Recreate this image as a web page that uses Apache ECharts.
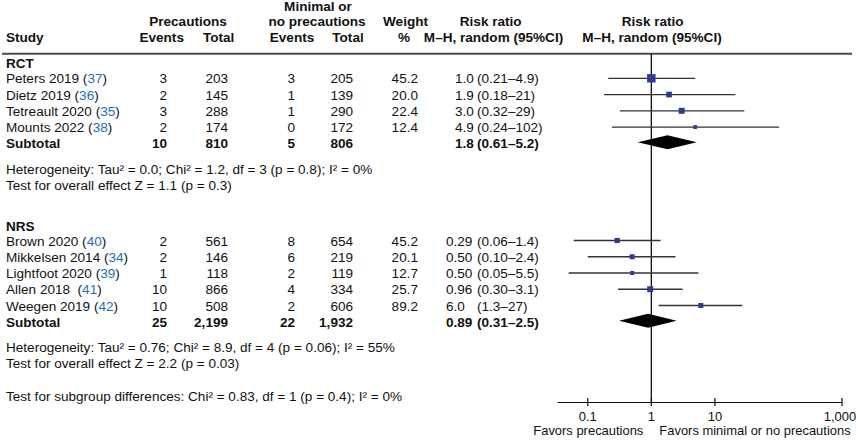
<!DOCTYPE html>
<html><head><meta charset="utf-8">
<script src="https://cdn.jsdelivr.net/npm/echarts@6/dist/echarts.min.js"></script>
<style>html,body{margin:0;padding:0;background:#fff}#c{width:858px;height:442px}</style>
</head><body><div id="c"></div>
<script>
// ---------------- DATA ----------------
const rctStudy = ['Peters 2019', 'Dietz 2019', 'Tetreault 2020', 'Mounts 2022'];
const rctRef = ['37', '36', '35', '38'];
const rctPrecEvents = ['3', '2', '3', '2'];
const rctPrecTotal = ['203', '145', '288', '174'];
const rctCtrlEvents = ['3', '1', '1', '0'];
const rctCtrlTotal = ['205', '139', '290', '172'];
const rctWeight = ['45.2', '20.0', '22.4', '12.4'];
const rctRR = ['1.0', '1.9', '3.0', '4.9'];
const rctLow = ['0.21', '0.18', '0.32', '0.24'];
const rctHigh = ['4.9', '21', '29', '102'];
const rctSubCounts = ['10', '810', '5', '806'];
const rctSubRR = ['1.8', '0.61', '5.2'];
const rctHet = 'Heterogeneity: Tau\u00b2 = 0.0; Chi\u00b2 = 1.2, df = 3 (p = 0.8); I\u00b2 = 0%';
const rctOverall = 'Test for overall effect Z = 1.1 (p = 0.3)';

const nrsStudy = ['Brown 2020', 'Mikkelsen 2014', 'Lightfoot 2020', 'Allen 2018 ', 'Weegen 2019'];
const nrsRef = ['40', '34', '39', '41', '42'];
const nrsPrecEvents = ['2', '2', '1', '10', '10'];
const nrsPrecTotal = ['561', '146', '118', '866', '508'];
const nrsCtrlEvents = ['8', '6', '2', '4', '2'];
const nrsCtrlTotal = ['654', '219', '119', '334', '606'];
const nrsWeight = ['45.2', '20.1', '12.7', '25.7', '89.2'];
const nrsRR = ['0.29', '0.50', '0.50', '0.96', '6.0'];
const nrsLow = ['0.06', '0.10', '0.05', '0.30', '1.3'];
const nrsHigh = ['1.4', '2.4', '5.5', '3.1', '27'];
const nrsSubCounts = ['25', '2,199', '22', '1,932'];
const nrsSubRR = ['0.89', '0.31', '2.5'];
const nrsHet = 'Heterogeneity: Tau\u00b2 = 0.76; Chi\u00b2 = 8.9, df = 4 (p = 0.06); I\u00b2 = 55%';
const nrsOverall = 'Test for overall effect Z = 2.2 (p = 0.03)';

const subgroupTest = 'Test for subgroup differences: Chi\u00b2 = 0.83, df = 1 (p = 0.4); I\u00b2 = 0%';
const tickValues = [0.1, 1, 10, 1000];
const tickLabels = ['0.1', '1', '10', '1,000'];
const favorsLeft = 'Favors precautions';
const favorsRight = 'Favors minimal or no precautions';

// ---------------- STYLE / LAYOUT ----------------
const FONT = '"Liberation Sans", Arial, Helvetica, sans-serif';
const FS = 12, SX = 1.13, SX_AXIS = 1.08;
const TXT = '#111', BLUE = '#1b6fbf', SQ = '#2d3a98', LINE = '#333';
const COL = { name: 6, pe: 167, pt: 228, ce: 295, ct: 353, w: 418, ci: 477 };
const ROWH = 16.25, TOFF = 0.8;
const rctSquarePx = [8.4, 5.7, 6, 3.8];
const nrsSquarePx = [5.2, 5, 4, 6, 5];
const DIAMOND_H = 14;
const AXIS_Y = 402;

// ---------------- BUILD ----------------
const textRows = [];   // {y, items:[{x, s, align, bold, rich}]}
const forest = [];     // [rr, lo, hi, y, kind, size]

function addHeaderRow(y, items) { textRows.push({ y, items }); }
addHeaderRow(6.5, [{ x: 318, s: 'Minimal or', align: 'center', bold: true }]);
addHeaderRow(22, [
  { x: 188, s: 'Precautions', align: 'center', bold: true },
  { x: 317, s: 'no precautions', align: 'center', bold: true },
  { x: 405.5, s: 'Weight', align: 'center', bold: true },
  { x: 490.7, s: 'Risk ratio', align: 'center', bold: true },
  { x: 652.7, s: 'Risk ratio', align: 'center', bold: true }
]);
addHeaderRow(38, [
  { x: 6, s: 'Study', align: 'left', bold: true },
  { x: 161.7, s: 'Events', align: 'center', bold: true },
  { x: 218.7, s: 'Total', align: 'center', bold: true },
  { x: 292, s: 'Events', align: 'center', bold: true },
  { x: 348, s: 'Total', align: 'center', bold: true },
  { x: 404, s: '%', align: 'center', bold: true },
  { x: 493.5, s: 'M\u2013H, random (95%CI)', align: 'center', bold: true },
  { x: 652, s: 'M\u2013H, random (95%CI)', align: 'center', bold: true }
]);

function addSection(label, start, rrX, study, ref, pe, pt, ce, ct, w, rr, lo, hi, subCounts, subRR, het, overall, sq) {
  textRows.push({ y: start - 15 + TOFF, items: [{ x: COL.name, s: label, align: 'left', bold: true }] });
  study.forEach((s, i) => {
    const y = start + i * ROWH;
    textRows.push({ y: y + TOFF, items: [
      { x: COL.name, s: s + ' ({ref|' + ref[i] + '})', align: 'left', rich: true },
      { x: COL.pe, s: pe[i], align: 'right' },
      { x: COL.pt, s: pt[i], align: 'right' },
      { x: COL.ce, s: ce[i], align: 'right' },
      { x: COL.ct, s: ct[i], align: 'right' },
      { x: COL.w, s: w[i], align: 'right' },
      { x: rrX, s: rr[i], align: 'left' },
      { x: COL.ci, s: '(' + lo[i] + '\u2013' + hi[i] + ')', align: 'left' }
    ]});
    forest.push([Number(rr[i]), Number(lo[i]), Number(hi[i]), y, 0, sq[i]]);
  });
  const ys = start + study.length * ROWH;
  textRows.push({ y: ys + TOFF, items: [
    { x: COL.name, s: 'Subtotal', align: 'left', bold: true },
    { x: COL.pe, s: subCounts[0], align: 'right', bold: true },
    { x: COL.pt, s: subCounts[1], align: 'right', bold: true },
    { x: COL.ce, s: subCounts[2], align: 'right', bold: true },
    { x: COL.ct, s: subCounts[3], align: 'right', bold: true },
    { x: rrX, s: subRR[0], align: 'left', bold: true },
    { x: COL.ci, s: '(' + subRR[1] + '\u2013' + subRR[2] + ')', align: 'left', bold: true }
  ]});
  forest.push([Number(subRR[0]), Number(subRR[1]), Number(subRR[2]), ys - 1, 1, DIAMOND_H]);
  textRows.push({ y: ys + 26, items: [{ x: COL.name, s: het, align: 'left' }] });
  textRows.push({ y: ys + 42, items: [{ x: COL.name, s: overall, align: 'left' }] });
}
addSection('RCT', 78.3, 455, rctStudy, rctRef, rctPrecEvents, rctPrecTotal, rctCtrlEvents, rctCtrlTotal, rctWeight, rctRR, rctLow, rctHigh, rctSubCounts, rctSubRR, rctHet, rctOverall, rctSquarePx);
addSection('NRS', 240.5, 446, nrsStudy, nrsRef, nrsPrecEvents, nrsPrecTotal, nrsCtrlEvents, nrsCtrlTotal, nrsWeight, nrsRR, nrsLow, nrsHigh, nrsSubCounts, nrsSubRR, nrsHet, nrsOverall, nrsSquarePx);
textRows.push({ y: 397, items: [{ x: COL.name, s: subgroupTest, align: 'left' }] });

function fontOf(bold) { return (bold ? 'bold ' : '') + FS + 'px ' + FONT; }
function txt(x, y, it, sx) {
  const style = { text: it.s, x: 0, y: 0, align: it.align || 'left', verticalAlign: 'middle', font: fontOf(it.bold), fill: TXT };
  if (it.rich) style.rich = { ref: { fill: BLUE, font: fontOf(it.bold) } };
  return { type: 'text', x: x, y: y, scaleX: sx || SX, silent: true, style: style };
}

const chart = echarts.init(document.getElementById('c'), null, { renderer: 'svg' });
chart.setOption({
  animation: false,
  backgroundColor: '#fff',
  grid: { left: 558, right: 16, top: 0, bottom: 442 - AXIS_Y, containLabel: false },
  xAxis: {
    type: 'log', logBase: 10, min: 0.034, max: 1000,
    axisLine: { show: true, onZero: false, lineStyle: { color: '#111', width: 1.2 } },
    axisTick: { show: false }, axisLabel: { show: false }, splitLine: { show: false }
  },
  yAxis: { type: 'value', inverse: true, min: 0, max: AXIS_Y, show: false },
  graphic: [{ type: 'line', shape: { x1: 2, y1: 53.7, x2: 852, y2: 53.7 }, style: { stroke: '#4a4a4a', lineWidth: 2 }, silent: true }],
  series: [
    { // reference line at RR = 1 and axis ticks / labels
      type: 'custom', silent: true, clip: false,
      data: [[1, 0]],
      renderItem: function (params, api) {
        const top = api.coord([1, 53.7]), bot = api.coord([1, AXIS_Y]);
        const ch = [{ type: 'line', shape: { x1: top[0], y1: top[1], x2: bot[0], y2: bot[1] }, style: { stroke: '#111', lineWidth: 1.3 } }];
        tickValues.forEach((v, i) => {
          const p = api.coord([v, AXIS_Y]);
          ch.push({ type: 'line', shape: { x1: p[0], y1: p[1] - 4, x2: p[0], y2: p[1] + 4 }, style: { stroke: '#111', lineWidth: 1.2 } });
          ch.push(txt(i === tickValues.length - 1 ? p[0] - 2 : p[0], p[1] + 15, { s: tickLabels[i], align: 'center' }, SX_AXIS));
        });
        const one = api.coord([1, AXIS_Y]);
        ch.push(txt(one[0] - 8, one[1] + 29, { s: favorsLeft, align: 'right' }, SX_AXIS));
        ch.push(txt(one[0] + 8, one[1] + 29, { s: favorsRight, align: 'left' }, SX_AXIS));
        return { type: 'group', children: ch };
      }
    },
    { // confidence intervals, squares, diamonds
      type: 'custom', silent: true, clip: false,
      data: forest,
      encode: { x: [0, 1, 2], y: 3 },
      renderItem: function (params, api) {
        const y = api.value(3);
        const c = api.coord([api.value(0), y]);
        const l = api.coord([api.value(1), y]);
        const h = api.coord([api.value(2), y]);
        const kind = api.value(4), s = api.value(5);
        if (kind === 1) {
          return { type: 'polygon', shape: { points: [[l[0], c[1]], [c[0], c[1] - s / 2], [h[0], c[1]], [c[0], c[1] + s / 2]] }, style: { fill: '#000' } };
        }
        return { type: 'group', children: [
          { type: 'line', shape: { x1: l[0], y1: c[1], x2: h[0], y2: c[1] }, style: { stroke: LINE, lineWidth: 1.3 } },
          { type: 'rect', shape: { x: c[0] - s / 2, y: c[1] - s / 2, width: s, height: s }, style: { fill: SQ } }
        ]};
      }
    },
    { // table text
      type: 'custom', silent: true, clip: false,
      data: textRows.map(r => [1, r.y]),
      encode: { x: 0, y: 1 },
      renderItem: function (params, api) {
        const row = textRows[params.dataIndex];
        const yy = api.coord([1, row.y])[1];
        return { type: 'group', children: row.items.map(it => txt(it.x, yy, it)) };
      }
    }
  ]
});
</script></body></html>
